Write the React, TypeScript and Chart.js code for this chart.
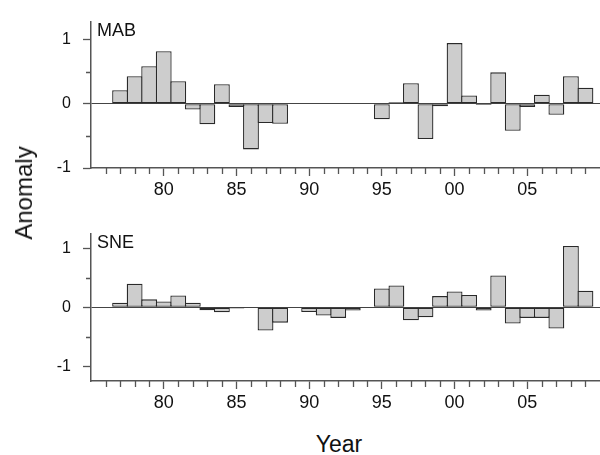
import React, { useEffect, useRef } from "react";
import { Chart, registerables } from "chart.js";

Chart.register(...registerables);

const years = [
  1977, 1978, 1979, 1980, 1981, 1982, 1983, 1984, 1985, 1986, 1987, 1988,
  1989, 1990, 1991, 1992, 1993, 1994, 1995, 1996, 1997, 1998, 1999, 2000,
  2001, 2002, 2003, 2004, 2005, 2006, 2007, 2008, 2009,
];

const mabValues = [
  0.21, 0.43, 0.585, 0.82, 0.35, -0.09, -0.32, 0.305, -0.05, -0.71, -0.3, -0.31,
  null, null, null, null, null, null,
  -0.24, 0.025, 0.32, -0.55, -0.04, 0.945, 0.13, -0.02, 0.49, -0.42, -0.05, 0.14,
  -0.17, 0.43, 0.25,
];

const sneValues = [
  0.076, 0.4, 0.135, 0.1, 0.2, 0.076, -0.05, -0.086, -0.02, -0.01, -0.395, -0.26,
  null, -0.08, -0.14, -0.18, -0.055, -0.005,
  0.32, 0.37, -0.22, -0.17, 0.19, 0.27, 0.21, -0.055, 0.54, -0.275, -0.18, -0.18,
  -0.36, 1.04, 0.28,
];

const xMajorTicks = [1980, 1985, 1990, 1995, 2000, 2005];
const xMajorLabels = ["80", "85", "90", "95", "00", "05"];
const xMinorTicks = [
  1976, 1977, 1978, 1979, 1981, 1982, 1983, 1984, 1986, 1987, 1988, 1989,
  1991, 1992, 1993, 1994, 1996, 1997, 1998, 1999, 2001, 2002, 2003, 2004,
  2006, 2007, 2008, 2009,
];
const yMajorTicks = [-1, 0, 1];
const yMajorLabels = ["-1", "0", "1"];
const yMinorTicks = [-0.5, 0.5];

const FONT = "'Liberation Sans', Arial, Helvetica, sans-serif";
const AXIS_COLOR = "#555555";
const TEXT_COLOR = "#111111";

const minorTickPlugin = {
  id: "minorTicks",
  afterDraw(chart: any) {
    const { ctx, chartArea } = chart;
    const xs = chart.scales.x;
    const ys = chart.scales.y;
    ctx.save();
    ctx.strokeStyle = AXIS_COLOR;
    ctx.lineWidth = 1.3;
    ctx.beginPath();
    for (const v of xMinorTicks) {
      const px = Math.round(xs.getPixelForValue(v)) + 0.5;
      ctx.moveTo(px, chartArea.bottom);
      ctx.lineTo(px, chartArea.bottom + 6);
    }
    for (const v of yMinorTicks) {
      const py = Math.round(ys.getPixelForValue(v)) + 0.5;
      ctx.moveTo(chartArea.left - 5, py);
      ctx.lineTo(chartArea.left, py);
    }
    ctx.stroke();
    const label = chart.options.plugins.panelLabel?.text;
    if (label) {
      ctx.fillStyle = TEXT_COLOR;
      ctx.font = `18px ${FONT}`;
      ctx.textBaseline = "alphabetic";
      ctx.textAlign = "left";
      ctx.fillText(label, chartArea.left + 6, chartArea.top + 14.5);
    }
    ctx.restore();
  },
};

function makeConfig(values: (number | null)[], name: string, yMin: number, yMax: number, padTop: number): any {
  return {
    type: "bar",
    data: {
      datasets: [
        {
          data: years.map((x, i) => ({ x, y: values[i] })),
          backgroundColor: "#cdcdcd",
          borderColor: "#2a2a2a",
          borderWidth: 1.3,
          borderSkipped: false,
          categoryPercentage: 1,
          barPercentage: 1.09,
        },
      ],
    },
    options: {
      responsive: false,
      animation: false,
      layout: { padding: { top: padTop, right: 0, bottom: 0, left: 0 } },
      plugins: {
        legend: { display: false },
        tooltip: { enabled: false },
        panelLabel: { text: name },
      },
      scales: {
        x: {
          type: "linear",
          min: 1975,
          max: 2010,
          offset: false,
          afterBuildTicks: (s: any) => {
            s.ticks = xMajorTicks.map((v) => ({ value: v }));
          },
          ticks: {
            autoSkip: false,
            maxRotation: 0,
            padding: 3,
            color: TEXT_COLOR,
            font: { size: 18, family: FONT },
            callback: (v: number) => {
              const i = xMajorTicks.indexOf(v);
              return i >= 0 ? xMajorLabels[i] : "";
            },
          },
          grid: {
            drawOnChartArea: false,
            drawTicks: true,
            tickLength: 8,
            tickColor: AXIS_COLOR,
            tickWidth: 1.3,
            offset: false,
          },
          border: { color: AXIS_COLOR, width: 1.5 },
          afterFit: (s: any) => {
            s.height = 42;
          },
        },
        y: {
          min: yMin,
          max: yMax,
          afterBuildTicks: (s: any) => {
            s.ticks = yMajorTicks.map((v) => ({ value: v }));
          },
          ticks: {
            padding: 12,
            color: TEXT_COLOR,
            font: { size: 16, family: FONT },
            callback: (v: number) => {
              const i = yMajorTicks.indexOf(v);
              return i >= 0 ? yMajorLabels[i] : "";
            },
          },
          grid: {
            drawOnChartArea: true,
            drawTicks: true,
            tickLength: 8,
            tickColor: AXIS_COLOR,
            tickWidth: 1.3,
            color: (ctx: any) => (ctx.tick && ctx.tick.value === 0 ? "#444444" : "rgba(0,0,0,0)"),
            lineWidth: 1,
          },
          border: { color: AXIS_COLOR, width: 1.5 },
          afterFit: (s: any) => {
            s.width = 91;
          },
        },
      },
    },
    plugins: [minorTickPlugin],
  };
}

function Panel({ values, name, top, height, yMin, yMax, padTop }: any) {
  const ref = useRef<HTMLCanvasElement | null>(null);
  useEffect(() => {
    if (!ref.current) return;
    const chart = new Chart(ref.current, makeConfig(values, name, yMin, yMax, padTop));
    return () => chart.destroy();
  }, []);
  return (
    <canvas
      ref={ref}
      width={600}
      height={height}
      style={{ position: "absolute", left: 0, top, width: 600, height, display: "block" }}
    />
  );
}

export default function App() {
  return (
    <div style={{ position: "absolute", left: 0, top: 0, width: 600, height: 455, background: "#fff", fontFamily: FONT }}>
      <Panel values={mabValues} name="MAB" top={0} height={210} yMin={-1} yMax={1.28} padTop={14} />
      <Panel values={sneValues} name="SNE" top={212} height={211} yMin={-1.25} yMax={1.25} padTop={15} />
      <div
        style={{
          position: "absolute",
          left: 24,
          top: 193,
          transform: "translate(-50%, -50%) rotate(-90deg)",
          fontSize: 24,
          lineHeight: 1,
          whiteSpace: "nowrap",
          color: TEXT_COLOR,
        }}
      >
        Anomaly
      </div>
      <div
        style={{
          position: "absolute",
          left: 339,
          top: 444,
          transform: "translate(-50%, -50%)",
          fontSize: 23,
          lineHeight: 1,
          whiteSpace: "nowrap",
          color: TEXT_COLOR,
        }}
      >
        Year
      </div>
    </div>
  );
}
